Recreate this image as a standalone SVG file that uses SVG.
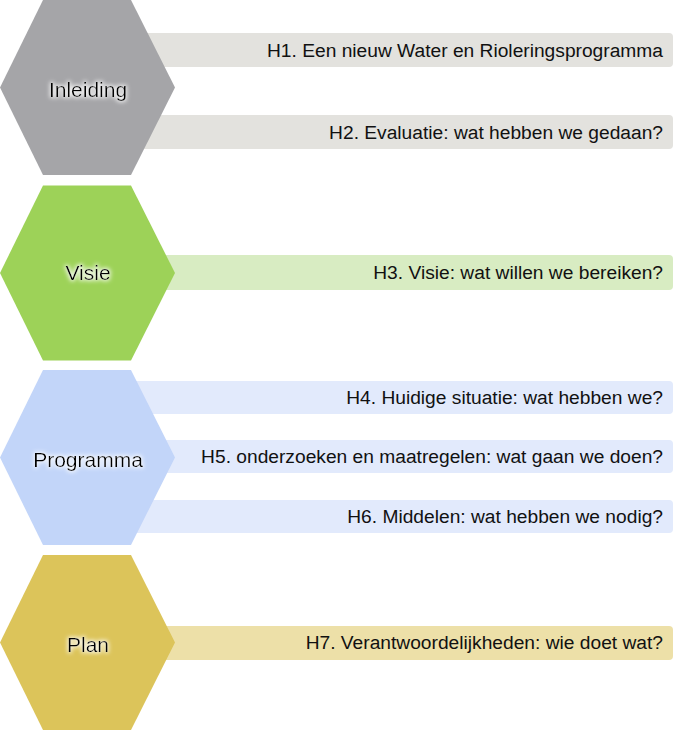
<svg xmlns="http://www.w3.org/2000/svg" width="676" height="731" viewBox="0 0 676 731">
<defs>
<filter id="glow" x="-30%" y="-50%" width="160%" height="200%">
<feMorphology in="SourceAlpha" operator="dilate" radius="1" result="d"/>
<feGaussianBlur in="d" stdDeviation="2" result="b"/>
<feFlood flood-color="#ffffff" flood-opacity="0.85"/>
<feComposite in2="b" operator="in" result="w"/>
<feMerge><feMergeNode in="w"/><feMergeNode in="SourceGraphic"/></feMerge>
</filter>
</defs>
<style>
.bar-gray{fill:#e3e2de}
.bar-green{fill:#d8ecc2}
.bar-blue{fill:#e2eafc}
.bar-yellow{fill:#ede0a8}
.hex-gray{fill:#a5a5a8}
.hex-green{fill:#9dd258}
.hex-blue{fill:#c2d5f9}
.hex-yellow{fill:#dcc45a}
.bt{font-family:"Liberation Sans",Arial,sans-serif;font-size:19.2px;fill:#111111;text-anchor:end}
.ht{font-family:"Liberation Sans",Arial,sans-serif;font-size:21px;fill:#000000;text-anchor:middle;filter:url(#glow)}
</style>
<rect width="676" height="731" fill="#ffffff"/>
<g id="connectors">
<rect class="bar-gray" x="100" y="33" width="573" height="34" rx="4"/>
<rect class="bar-gray" x="100" y="115" width="573" height="34" rx="4"/>
<rect class="bar-green" x="100" y="255" width="573" height="35" rx="4"/>
<rect class="bar-blue" x="100" y="381" width="573" height="33" rx="4"/>
<rect class="bar-blue" x="100" y="440" width="573" height="33" rx="4"/>
<rect class="bar-blue" x="100" y="500" width="573" height="33" rx="4"/>
<rect class="bar-yellow" x="100" y="626" width="573" height="34" rx="4"/>
</g>
<g id="h1"><text class="bt" x="663" y="57">H1. Een nieuw Water en Rioleringsprogramma</text></g>
<g id="h2"><text class="bt" x="663" y="139">H2. Evaluatie: wat hebben we gedaan?</text></g>
<g id="h3"><text class="bt" x="663" y="279">H3. Visie: wat willen we bereiken?</text></g>
<g id="h4"><text class="bt" x="663" y="404">H4. Huidige situatie: wat hebben we?</text></g>
<g id="h5"><text class="bt" x="663" y="463">H5. onderzoeken en maatregelen: wat gaan we doen?</text></g>
<g id="h6"><text class="bt" x="663" y="523">H6. Middelen: wat hebben we nodig?</text></g>
<g id="h7"><text class="bt" x="663" y="649">H7. Verantwoordelijkheden: wie doet wat?</text></g>
<g id="inleiding">
<polygon class="hex-gray" points="43,0 131,0 175,87.5 131,175 43,175 0,87.5"/>
<text class="ht" x="88" y="97">Inleiding</text>
</g>
<g id="visie">
<polygon class="hex-green" points="43,185.5 131,185.5 175,273 131,360.5 43,360.5 0,273"/>
<text class="ht" x="88" y="280">Visie</text>
</g>
<g id="programma">
<polygon class="hex-blue" points="43,370 131,370 175,457.5 131,545 43,545 0,457.5"/>
<text class="ht" x="88" y="467">Programma</text>
</g>
<g id="plan">
<polygon class="hex-yellow" points="43,555 131,555 175,642.5 131,730 43,730 0,642.5"/>
<text class="ht" x="88" y="652">Plan</text>
</g>
</svg>
